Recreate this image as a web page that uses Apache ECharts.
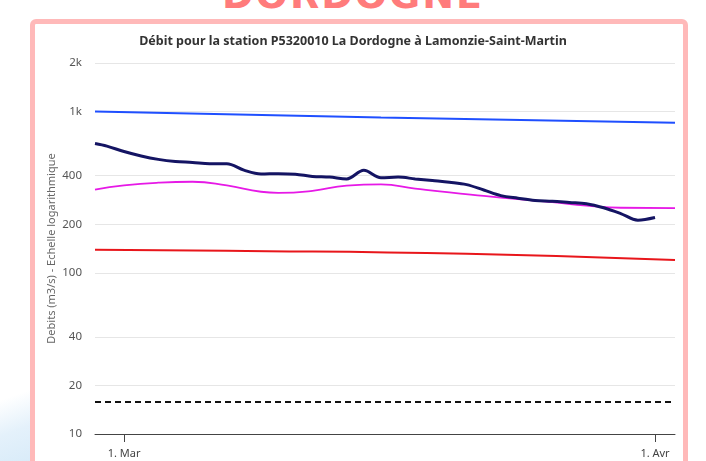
<!DOCTYPE html>
<html>
<head>
<meta charset="utf-8">
<script src="https://cdn.jsdelivr.net/npm/echarts@6/dist/echarts.min.js"></script>
<style>
	html,body{margin:0;padding:0;background:#fff;overflow:hidden;}
	.page{position:relative;width:706px;height:461px;overflow:hidden;background:#fff;}
	.big_title{position:absolute;left:0;width:706px;top:-24px;text-align:center;
		font-family:"DejaVu Sans",sans-serif;font-weight:bold;font-size:38px;line-height:38px;
		letter-spacing:2px;color:#ff7b7b;}
	.deco{position:absolute;left:0;top:380px;width:34px;height:90px;
		background:linear-gradient(160deg,rgba(255,255,255,0) 20%,#e4f1fb 55%,#d6eaf8 100%);}
	.frame{position:absolute;left:30px;top:19px;width:648px;height:470px;border:5px solid #ffb9b9;
		border-radius:6px;background:#fff;}
	.js_chart{position:absolute;left:0;top:0;width:706px;height:461px;}
</style>
</head>
<body>
<div class="page">
	<div class="big_title">DORDOGNE</div>
	<div class="deco"></div>
	<div class="frame"></div>
	<div class="js_chart"></div>
</div>
<script>
	// bornes de l'axe des temps
	var axisStart = '2025-02-27T07:20:00Z';
	var axisEnd = '2025-04-02T04:00:00Z';
	var xTickDates = ['2025-03-01T00:00:00Z', '2025-04-01T00:00:00Z'];
	var moisFr = ['Janv', 'Févr', 'Mar', 'Avr', 'Mai', 'Juin', 'Juil', 'Août', 'Sept', 'Oct', 'Nov', 'Déc'];

	// graduations log
	var yTicks = [10, 20, 40, 100, 200, 400, 1000, 2000];

	// débit observé
	var debitDates = ['2025-02-27T07:20:00Z', '2025-02-28', '2025-03-01', '2025-03-02', '2025-03-03', '2025-03-04',
		'2025-03-05', '2025-03-06', '2025-03-07', '2025-03-08', '2025-03-09', '2025-03-10', '2025-03-11',
		'2025-03-12', '2025-03-13', '2025-03-14', '2025-03-15', '2025-03-16', '2025-03-17', '2025-03-18',
		'2025-03-19', '2025-03-20', '2025-03-21', '2025-03-22', '2025-03-23', '2025-03-24', '2025-03-25',
		'2025-03-26', '2025-03-27', '2025-03-28', '2025-03-29', '2025-03-30', '2025-03-31', '2025-04-01'];
	var debitValues = [633, 610, 565, 530, 505, 490,
		483, 474, 475, 433, 410, 412, 409,
		396, 392, 382, 432, 389, 392, 382,
		373, 364, 352, 326, 301, 290, 281,
		278, 273, 268, 253, 233, 212, 220];

	// courbe médiane (magenta)
	var medianeDates = ['2025-02-27T07:20:00Z', '2025-03-01', '2025-03-03', '2025-03-05', '2025-03-07', '2025-03-09',
		'2025-03-10', '2025-03-12', '2025-03-14', '2025-03-16', '2025-03-18', '2025-03-20', '2025-03-22',
		'2025-03-24', '2025-03-26', '2025-03-28', '2025-03-30', '2025-04-02T04:00:00Z'];
	var medianeValues = [328, 348, 362, 367, 348, 318,
		313, 322, 347, 353, 333, 315, 300,
		286, 274, 261, 253, 252];

	// seuil haut (bleu)
	var hautDates = ['2025-02-27T07:20:00Z', '2025-03-16', '2025-04-02T04:00:00Z'];
	var hautValues = [1000, 918, 851];

	// seuil bas (rouge)
	var basDates = ['2025-02-27T07:20:00Z', '2025-03-07', '2025-03-21', '2025-04-02T04:00:00Z'];
	var basValues = [139, 137, 131, 120];

	// seuil de crise (pointillés)
	var criseDates = ['2025-02-27T07:20:00Z', '2025-04-02T04:00:00Z'];
	var criseValues = [15.8, 15.8];

	function toLogPairs(dates, values){
		return dates.map(function(d, i){
			return [new Date(d).getTime(), Math.log10(values[i])];
		});
	}

	var chartShow = {
		init(){
			var myChart = echarts.init(document.querySelector('.js_chart'), null, {renderer: 'canvas'});
			var logTicks = yTicks.map(function(v){ return Math.log10(v); });
			var xTicks = xTickDates.map(function(d){ return new Date(d).getTime(); });
			var option = {
				animation: false,
				textStyle: {fontFamily: '"Noto Sans", "Open Sans", sans-serif'},
				title: {
					text: 'Débit pour la station P5320010 La Dordogne à Lamonzie-Saint-Martin',
					left: 'center',
					top: 30,
					textStyle: {fontSize: 12.5, fontWeight: 'bold', color: '#333', fontFamily: '"Noto Sans", sans-serif'}
				},
				grid: {left: 95, right: 31, top: 63, bottom: 27},
				// axe des temps en valeur (timestamps), graduations posées à la main
				xAxis: {
					type: 'value',
					min: new Date(axisStart).getTime(),
					max: new Date(axisEnd).getTime(),
					axisLine: {lineStyle: {color: '#444', width: 1}},
					axisTick: {show: true, length: 8, customValues: xTicks, lineStyle: {color: '#444'}},
					axisLabel: {
						customValues: xTicks,
						margin: 14,
						fontSize: 11,
						color: '#444',
						formatter: function(val){
							var d = new Date(val);
							return d.getUTCDate() + '. ' + moisFr[d.getUTCMonth()];
						}
					},
					splitLine: {show: false}
				},
				yAxis: {
					type: 'value',
					min: Math.log10(yTicks[0]),
					max: Math.log10(yTicks[yTicks.length - 1]),
					name: 'Debits (m3/s) - Echelle logarithmique',
					nameLocation: 'middle',
					nameRotate: 90,
					nameGap: 38,
					nameMoveOverlap: false,
					nameTextStyle: {fontSize: 11, color: '#666'},
					axisLine: {show: false},
					axisTick: {show: false, customValues: logTicks},
					axisLabel: {
						customValues: logTicks,
						margin: 13,
						fontSize: 11.5,
						color: '#555',
						formatter: function(val){
							var n = Math.round(Math.pow(10, val));
							return n >= 1000 ? (n / 1000) + 'k' : String(n);
						}
					},
					splitLine: {show: true, lineStyle: {color: '#e6e6e6', width: 1}}
				},
				series: [
					{
						name: 'Seuil haut', type: 'line', smooth: true, symbol: 'none',
						lineStyle: {color: '#1f4fff', width: 2},
						data: toLogPairs(hautDates, hautValues)
					},
					{
						name: 'Seuil bas', type: 'line', smooth: true, symbol: 'none',
						lineStyle: {color: '#e8161b', width: 2},
						data: toLogPairs(basDates, basValues)
					},
					{
						name: 'Médiane', type: 'line', smooth: true, symbol: 'none',
						lineStyle: {color: '#e619e6', width: 1.8},
						data: toLogPairs(medianeDates, medianeValues)
					},
					{
						name: 'Crise', type: 'line', symbol: 'none',
						lineStyle: {color: '#111', width: 2, type: [6, 4]},
						data: toLogPairs(criseDates, criseValues)
					},
					{
						name: 'Débit', type: 'line', smooth: 0.35, symbol: 'none',
						lineStyle: {color: '#141463', width: 3},
						data: toLogPairs(debitDates, debitValues)
					}
				]
			};
			myChart.setOption(option);
			window.addEventListener('resize', function(){ myChart.resize(); });
		}
	};
	chartShow.init();
</script>
</body>
</html>
